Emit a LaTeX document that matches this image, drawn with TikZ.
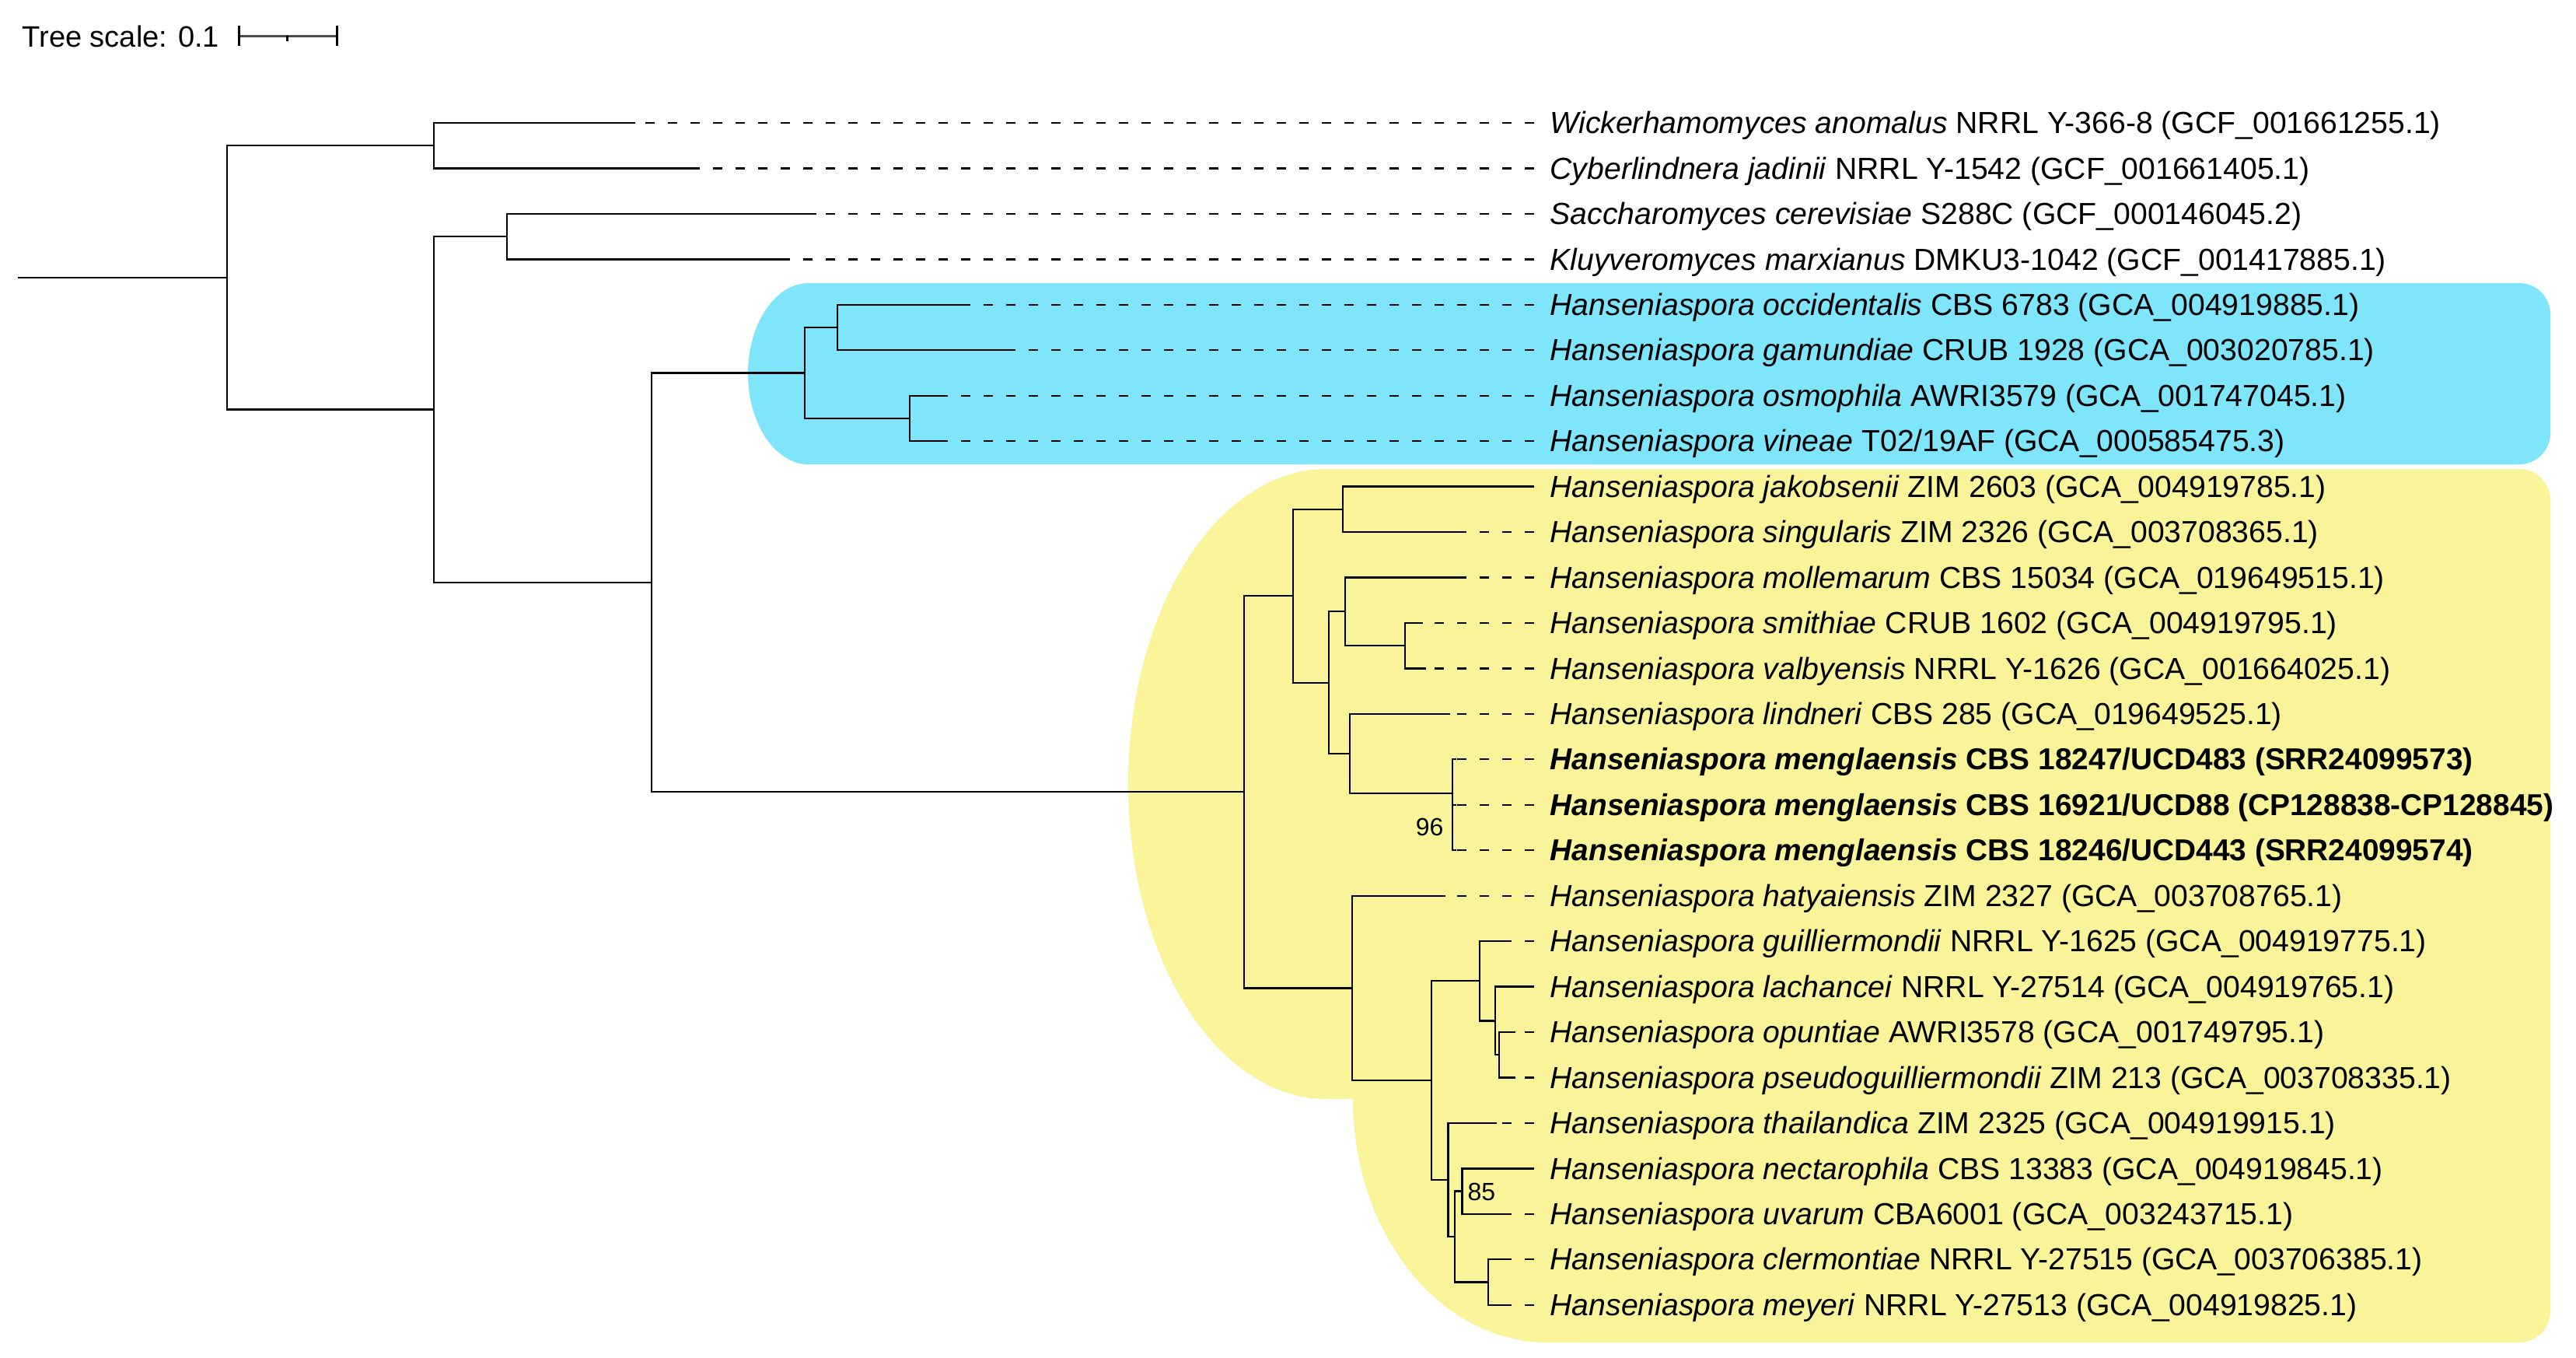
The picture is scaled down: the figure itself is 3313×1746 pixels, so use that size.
\documentclass[tikz,border=0pt]{standalone}
\usepackage{fontspec}
\setmainfont{Liberation Sans}
\definecolor{hlblue}{RGB}{126,229,250}
\definecolor{hlyellow}{RGB}{249,243,154}
\begin{document}
\begin{tikzpicture}[x=0.3pt,y=-0.3pt,
  br/.style={line width=0.7pt},
  dbr/.style={line width=0.7pt, dash pattern=on 3.6pt off 5.1pt},
  lab/.style={inner sep=0pt, anchor=base west, font=\fontsize{11.75}{13}\selectfont},
  blab/.style={inner sep=0pt, anchor=base west, font=\fontsize{11.65}{13}\selectfont\bfseries},
  tslab/.style={inner sep=0pt, anchor=base west, font=\fontsize{11.4}{13}\selectfont},
  boot/.style={inner sep=0pt, font=\fontsize{9.6}{11}\selectfont},
  sbar/.style={line width=0.9pt}]
\fill[white] (0,0) rectangle (3313,1746);
\useasboundingbox (0,0) rectangle (3313,1746);
% clade highlights
\fill[hlblue] (1040,480.5) ellipse [x radius=78, y radius=116.5];
\fill[hlblue] (1040,364) rectangle (2100,597);
\fill[hlblue, rounded corners=12pt] (2000,364) rectangle (3280,597);
\fill[hlyellow] (1706,1008) ellipse [x radius=255, y radius=405];
\fill[hlyellow] (1990,1413) ellipse [x radius=250, y radius=313];
\fill[hlyellow] (1706,603) rectangle (2100,1413);
\fill[hlyellow] (1990,1413) rectangle (2100,1726);
\fill[hlyellow, rounded corners=12pt] (2000,603) rectangle (3280,1726);
% scale
\node[tslab] (ts) at (28,60) {Tree scale: 0.1};
\coordinate (sbL) at (307,46);
\coordinate (sbM) at (369,46);
\coordinate (sbR) at (433,46);
\draw[sbar, black!70] (sbL) -- (sbR);
\draw[sbar] ([yshift=4pt]sbL) -- ([yshift=-4pt]sbL);
\draw[sbar] ([yshift=4pt]sbR) -- ([yshift=-4pt]sbR);
\draw[sbar] (sbM) -- ([yshift=-2.1pt]sbM);
% tips
\foreach \i/\tx in {0/817,1/891,2/1050,3/1014,4/1242,5/1300,6/1212,7/1212,8/1973,9/1884,10/1884,11/1830,12/1834,13/1865,14/1873,15/1873,16/1873,17/1859,18/1942,19/1973,20/1949,21/1949,22/1925,23/1972,24/1942,25/1942,26/1942}{
  \coordinate (t\i) at (\tx,{158+58.45*\i});
  \coordinate (d\i) at (1973,{158+58.45*\i});
}
\foreach \i in {0,...,26}{\draw[dbr] (d\i) -- (t\i);}
% internal nodes
\coordinate (root) at (23,356.9);
\coordinate (A) at (292,356.9);
\coordinate (A1) at (558,187.2);
\coordinate (B) at (558,526.5);
\coordinate (B1) at (652,304.1);
\coordinate (C) at (838,748.9);
\coordinate (D) at (1035,479.5);
\coordinate (E) at (1077,421);
\coordinate (F) at (1170,537.9);
\coordinate (G) at (1600,1018.3);
\coordinate (H) at (1663,766.2);
\coordinate (I) at (1727,654.8);
\coordinate (J) at (1709,877.7);
\coordinate (K) at (1730,786.3);
\coordinate (L) at (1807,830.2);
\coordinate (M) at (1736,969);
\coordinate (N) at (1868,1020.1);
\coordinate (N2) at (1868,1064);
\coordinate (O) at (1739,1270.4);
\coordinate (P) at (1841,1389.1);
\coordinate (Q) at (1903,1261.3);
\coordinate (R) at (1923,1312.4);
\coordinate (S) at (1928,1356.2);
\coordinate (T) at (1862.5,1517);
\coordinate (U) at (1871,1590);
\coordinate (V) at (1880.5,1531.6);
\coordinate (W) at (1914,1648.5);
% branches
\draw[br] (root) -- (A);
\draw[br] (A) |- (A1); \draw[br] (A) |- (B);
\draw[br] (A1) |- (t0); \draw[br] (A1) |- (t1);
\draw[br] (B) |- (B1); \draw[br] (B) |- (C);
\draw[br] (B1) |- (t2); \draw[br] (B1) |- (t3);
\draw[br] (C) |- (D); \draw[br] (C) |- (G);
\draw[br] (D) |- (E); \draw[br] (D) |- (F);
\draw[br] (E) |- (t4); \draw[br] (E) |- (t5);
\draw[br] (F) |- (t6); \draw[br] (F) |- (t7);
\draw[br] (G) |- (H); \draw[br] (G) |- (O);
\draw[br] (H) |- (I); \draw[br] (H) |- (J);
\draw[br] (I) |- (t8); \draw[br] (I) |- (t9);
\draw[br] (J) |- (K); \draw[br] (J) |- (M);
\draw[br] (K) |- (t10); \draw[br] (K) |- (L);
\draw[br] (L) |- (t11); \draw[br] (L) |- (t12);
\draw[br] (M) |- (t13); \draw[br] (M) |- (N);
\draw[br] (N) |- (t14); \draw[br] (N) |- (N2);
\draw[br] (N2) |- (t15); \draw[br] (N2) |- (t16);
\draw[br] (O) |- (t17); \draw[br] (O) |- (P);
\draw[br] (P) |- (Q); \draw[br] (P) |- (T);
\draw[br] (Q) |- (t18); \draw[br] (Q) |- (R);
\draw[br] (R) |- (t19); \draw[br] (R) |- (S);
\draw[br] (S) |- (t20); \draw[br] (S) |- (t21);
\draw[br] (T) |- (t22); \draw[br] (T) |- (U);
\draw[br] (U) |- (V); \draw[br] (U) |- (W);
\draw[br] (V) |- (t23); \draw[br] (V) |- (t24);
\draw[br] (W) |- (t25); \draw[br] (W) |- (t26);
% bootstrap
\node[boot, anchor=base east] (b96) at (1857,1074) {96};
\node[boot, anchor=base west] (b85) at (1887,1543) {85};
% labels
\node[lab] (l0) at ([xshift=6pt,yshift=-4.1pt]d0) {\textit{Wickerhamomyces anomalus} NRRL Y-366-8 (GCF\_001661255.1)};
\node[lab] (l1) at ([xshift=6pt,yshift=-4.1pt]d1) {\textit{Cyberlindnera jadinii} NRRL Y-1542 (GCF\_001661405.1)};
\node[lab] (l2) at ([xshift=6pt,yshift=-4.1pt]d2) {\textit{Saccharomyces cerevisiae} S288C (GCF\_000146045.2)};
\node[lab] (l3) at ([xshift=6pt,yshift=-4.1pt]d3) {\textit{Kluyveromyces marxianus} DMKU3-1042 (GCF\_001417885.1)};
\node[lab] (l4) at ([xshift=6pt,yshift=-4.1pt]d4) {\textit{Hanseniaspora occidentalis} CBS 6783 (GCA\_004919885.1)};
\node[lab] (l5) at ([xshift=6pt,yshift=-4.1pt]d5) {\textit{Hanseniaspora gamundiae} CRUB 1928 (GCA\_003020785.1)};
\node[lab] (l6) at ([xshift=6pt,yshift=-4.1pt]d6) {\textit{Hanseniaspora osmophila} AWRI3579 (GCA\_001747045.1)};
\node[lab] (l7) at ([xshift=6pt,yshift=-4.1pt]d7) {\textit{Hanseniaspora vineae} T02/19AF (GCA\_000585475.3)};
\node[lab] (l8) at ([xshift=6pt,yshift=-4.1pt]d8) {\textit{Hanseniaspora jakobsenii} ZIM 2603 (GCA\_004919785.1)};
\node[lab] (l9) at ([xshift=6pt,yshift=-4.1pt]d9) {\textit{Hanseniaspora singularis} ZIM 2326 (GCA\_003708365.1)};
\node[lab] (l10) at ([xshift=6pt,yshift=-4.1pt]d10) {\textit{Hanseniaspora mollemarum} CBS 15034 (GCA\_019649515.1)};
\node[lab] (l11) at ([xshift=6pt,yshift=-4.1pt]d11) {\textit{Hanseniaspora smithiae} CRUB 1602 (GCA\_004919795.1)};
\node[lab] (l12) at ([xshift=6pt,yshift=-4.1pt]d12) {\textit{Hanseniaspora valbyensis} NRRL Y-1626 (GCA\_001664025.1)};
\node[lab] (l13) at ([xshift=6pt,yshift=-4.1pt]d13) {\textit{Hanseniaspora lindneri} CBS 285 (GCA\_019649525.1)};
\node[blab] (l14) at ([xshift=6pt,yshift=-4.1pt]d14) {\textit{Hanseniaspora menglaensis} CBS 18247/UCD483 (SRR24099573)};
\node[blab] (l15) at ([xshift=6pt,yshift=-4.1pt]d15) {\textit{Hanseniaspora menglaensis} CBS 16921/UCD88 (CP128838-CP128845)};
\node[blab] (l16) at ([xshift=6pt,yshift=-4.1pt]d16) {\textit{Hanseniaspora menglaensis} CBS 18246/UCD443 (SRR24099574)};
\node[lab] (l17) at ([xshift=6pt,yshift=-4.1pt]d17) {\textit{Hanseniaspora hatyaiensis} ZIM 2327 (GCA\_003708765.1)};
\node[lab] (l18) at ([xshift=6pt,yshift=-4.1pt]d18) {\textit{Hanseniaspora guilliermondii} NRRL Y-1625 (GCA\_004919775.1)};
\node[lab] (l19) at ([xshift=6pt,yshift=-4.1pt]d19) {\textit{Hanseniaspora lachancei} NRRL Y-27514 (GCA\_004919765.1)};
\node[lab] (l20) at ([xshift=6pt,yshift=-4.1pt]d20) {\textit{Hanseniaspora opuntiae} AWRI3578 (GCA\_001749795.1)};
\node[lab] (l21) at ([xshift=6pt,yshift=-4.1pt]d21) {\textit{Hanseniaspora pseudoguilliermondii} ZIM 213 (GCA\_003708335.1)};
\node[lab] (l22) at ([xshift=6pt,yshift=-4.1pt]d22) {\textit{Hanseniaspora thailandica} ZIM 2325 (GCA\_004919915.1)};
\node[lab] (l23) at ([xshift=6pt,yshift=-4.1pt]d23) {\textit{Hanseniaspora nectarophila} CBS 13383 (GCA\_004919845.1)};
\node[lab] (l24) at ([xshift=6pt,yshift=-4.1pt]d24) {\textit{Hanseniaspora uvarum} CBA6001 (GCA\_003243715.1)};
\node[lab] (l25) at ([xshift=6pt,yshift=-4.1pt]d25) {\textit{Hanseniaspora clermontiae} NRRL Y-27515 (GCA\_003706385.1)};
\node[lab] (l26) at ([xshift=6pt,yshift=-4.1pt]d26) {\textit{Hanseniaspora meyeri} NRRL Y-27513 (GCA\_004919825.1)};
\end{tikzpicture}
\end{document}
